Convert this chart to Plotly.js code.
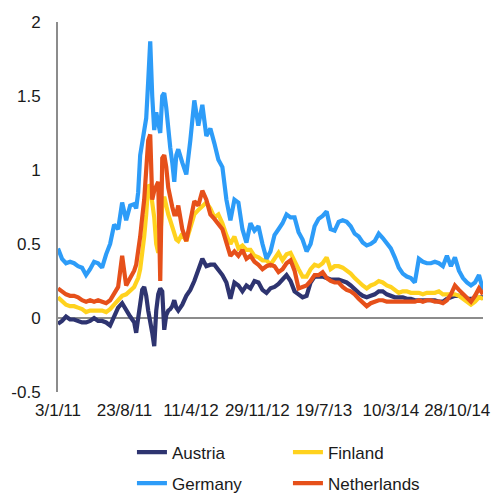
<!DOCTYPE html>
<html>
<head>
<meta charset="utf-8">
<script src="https://cdn.plot.ly/plotly-3.0.1.min.js"></script>
<style>
  html, body { margin: 0; padding: 0; background: #ffffff; }
  #chart { width: 496px; height: 495px; }
</style>
</head>
<body>
<div id="chart"></div>
<script>
// Dates (two-weekly, weekly in the late-2011 turmoil)
const dates = [
  "2011-01-03","2011-01-17","2011-01-31","2011-02-14","2011-02-28","2011-03-14","2011-03-28","2011-04-11","2011-04-25","2011-05-09",
  "2011-05-23","2011-06-06","2011-06-20","2011-07-04","2011-07-18","2011-08-01","2011-08-15","2011-08-29","2011-09-12","2011-09-26",
  "2011-10-03","2011-10-10","2011-10-17","2011-10-24","2011-10-31","2011-11-07","2011-11-14","2011-11-21","2011-11-28","2011-12-05",
  "2011-12-12","2011-12-19","2011-12-26","2012-01-02","2012-01-09","2012-01-16","2012-01-23","2012-01-30","2012-02-06","2012-02-13",
  "2012-02-20","2012-02-27","2012-03-12","2012-03-26","2012-04-09","2012-04-23","2012-05-07","2012-05-21","2012-06-04","2012-06-18",
  "2012-07-02","2012-07-16","2012-07-30","2012-08-13","2012-08-27","2012-09-10","2012-09-24","2012-10-08","2012-10-22","2012-11-05",
  "2012-11-19","2012-12-03","2012-12-17","2012-12-31","2013-01-14","2013-01-28","2013-02-11","2013-02-25","2013-03-11","2013-03-25",
  "2013-04-08","2013-04-22","2013-05-06","2013-05-20","2013-06-03","2013-06-17","2013-07-01","2013-07-15","2013-07-29","2013-08-12",
  "2013-08-26","2013-09-09","2013-09-23","2013-10-07","2013-10-21","2013-11-04","2013-11-18","2013-12-02","2013-12-16","2013-12-30",
  "2014-01-13","2014-01-27","2014-02-10","2014-02-24","2014-03-10","2014-03-24","2014-04-07","2014-04-21","2014-05-05","2014-05-19",
  "2014-06-02","2014-06-16","2014-06-30","2014-07-14","2014-07-28","2014-08-11","2014-08-25","2014-09-08","2014-09-22","2014-10-06",
  "2014-10-20","2014-11-03","2014-11-17","2014-12-01","2014-12-15","2014-12-29","2015-01-12","2015-01-26"
];

const austria = [
  -0.04,-0.02,0.01,-0.01,-0.01,-0.02,-0.03,-0.03,-0.02,0.00,
  -0.02,-0.02,-0.03,-0.05,0.01,0.07,0.10,0.05,0.01,-0.03,
  -0.10,0.00,0.10,0.19,0.21,0.15,0.05,-0.05,-0.10,-0.19,
  0.05,0.16,0.20,0.18,-0.08,0.02,0.05,0.06,0.08,0.12,
  0.07,0.05,0.09,0.15,0.19,0.25,0.32,0.40,0.35,0.36,
  0.36,0.33,0.29,0.24,0.13,0.24,0.22,0.18,0.22,0.20,
  0.25,0.24,0.19,0.17,0.20,0.21,0.23,0.26,0.29,0.25,
  0.18,0.16,0.14,0.15,0.24,0.28,0.28,0.28,0.27,0.26,
  0.26,0.26,0.25,0.24,0.22,0.19,0.17,0.15,0.14,0.15,
  0.16,0.18,0.18,0.16,0.15,0.14,0.14,0.14,0.13,0.13,
  0.12,0.12,0.12,0.12,0.12,0.12,0.11,0.11,0.13,0.14,
  0.15,0.15,0.14,0.13,0.13,0.13,0.14,0.14
];

const finland = [
  0.14,0.11,0.09,0.08,0.08,0.07,0.06,0.04,0.05,0.05,
  0.05,0.05,0.04,0.06,0.09,0.12,0.15,0.16,0.19,0.21,
  0.24,0.27,0.33,0.42,0.55,0.70,0.90,0.88,0.80,0.68,
  0.50,0.44,0.55,0.75,0.82,0.75,0.70,0.66,0.62,0.59,
  0.53,0.52,0.57,0.52,0.62,0.70,0.73,0.76,0.78,0.74,
  0.68,0.70,0.64,0.56,0.50,0.55,0.47,0.49,0.46,0.46,
  0.42,0.41,0.39,0.39,0.36,0.40,0.44,0.39,0.43,0.44,
  0.38,0.33,0.28,0.28,0.33,0.36,0.35,0.37,0.41,0.33,
  0.35,0.35,0.34,0.32,0.30,0.27,0.24,0.22,0.20,0.22,
  0.23,0.25,0.24,0.22,0.21,0.19,0.17,0.18,0.18,0.17,
  0.17,0.17,0.16,0.17,0.17,0.17,0.18,0.16,0.16,0.16,
  0.16,0.15,0.13,0.11,0.09,0.11,0.14,0.13
];

const germany = [
  0.47,0.40,0.37,0.38,0.37,0.35,0.34,0.29,0.33,0.38,
  0.37,0.34,0.43,0.50,0.63,0.60,0.78,0.66,0.76,0.77,
  0.74,0.85,1.10,1.20,1.27,1.35,1.60,1.87,1.50,1.27,
  1.39,1.30,1.25,1.50,1.52,1.42,1.25,1.15,1.05,0.92,
  1.10,1.14,1.05,0.97,1.20,1.47,1.30,1.44,1.23,1.28,
  1.18,1.07,1.02,0.80,0.66,0.80,0.78,0.60,0.51,0.64,
  0.59,0.62,0.50,0.40,0.45,0.56,0.60,0.64,0.70,0.68,
  0.68,0.58,0.53,0.45,0.50,0.62,0.67,0.69,0.72,0.60,
  0.59,0.65,0.66,0.65,0.62,0.57,0.55,0.51,0.49,0.50,
  0.52,0.57,0.54,0.50,0.47,0.41,0.34,0.30,0.28,0.27,
  0.24,0.40,0.38,0.37,0.37,0.38,0.37,0.35,0.42,0.35,
  0.41,0.32,0.27,0.24,0.22,0.24,0.29,0.19
];

const netherlands = [
  0.20,0.18,0.16,0.15,0.15,0.14,0.12,0.11,0.12,0.11,
  0.12,0.11,0.10,0.12,0.17,0.21,0.42,0.22,0.27,0.32,
  0.36,0.45,0.55,0.68,0.80,1.00,1.20,1.24,0.80,0.86,
  0.90,0.92,0.25,1.08,1.10,1.02,0.88,0.80,0.75,0.70,
  0.70,0.76,0.60,0.52,0.66,0.79,0.76,0.86,0.80,0.70,
  0.67,0.64,0.60,0.51,0.42,0.45,0.42,0.46,0.40,0.42,
  0.38,0.36,0.33,0.35,0.36,0.35,0.31,0.33,0.37,0.39,
  0.32,0.20,0.21,0.22,0.25,0.29,0.29,0.31,0.27,0.25,
  0.24,0.24,0.21,0.19,0.18,0.16,0.13,0.10,0.08,0.10,
  0.11,0.12,0.12,0.11,0.11,0.11,0.11,0.11,0.11,0.11,
  0.11,0.12,0.11,0.12,0.12,0.11,0.11,0.10,0.12,0.16,
  0.22,0.19,0.16,0.13,0.11,0.15,0.20,0.16
];

const seriesNames = ["Austria", "Finland", "Germany", "Netherlands"];
const seriesColors = ["#2E3470", "#FFD21E", "#2D9CF8", "#E6501A"];
const seriesValues = [austria, finland, germany, netherlands];
const seriesLegendRow = ["legend", "legend", "legend2", "legend2"];

const xTickVals = ["2011-01-03","2011-08-23","2012-04-11","2012-11-29","2013-07-19","2014-03-10","2014-10-28"];
const xTickText = ["3/1/11","23/8/11","11/4/12","29/11/12","19/7/13","10/3/14","28/10/14"];
const yTickVals = [-0.5, 0, 0.5, 1, 1.5, 2];
const yTickText = ["-0.5", "0", "0.5", "1", "1.5", "2"];

const traces = seriesNames.map((name, i) => ({
  type: "scatter",
  mode: "lines",
  name: name,
  legend: seriesLegendRow[i],
  x: dates,
  y: seriesValues[i],
  line: { color: seriesColors[i], width: 4.2, shape: "linear" }
}));

const legendCommon = {
  orientation: "h",
  xanchor: "left",
  yanchor: "top",
  entrywidth: 111,
  entrywidthmode: "pixels",
  font: { family: "Liberation Sans, Arial, sans-serif", size: 17, color: "#1a1a1a" },
  bgcolor: "rgba(0,0,0,0)"
};

const layout = {
  width: 496,
  height: 495,
  margin: { l: 58, r: 13, t: 22, b: 103, autoexpand: false },
  paper_bgcolor: "#ffffff",
  plot_bgcolor: "#ffffff",
  font: { family: "Liberation Sans, Arial, sans-serif", size: 17, color: "#1a1a1a" },
  showlegend: true,
  legend: Object.assign({}, legendCommon, { x: 0.174, y: -0.115 }),
  legend2: Object.assign({}, legendCommon, { x: 0.174, y: -0.199 }),
  xaxis: {
    type: "date",
    range: ["2011-01-03", "2015-01-26"],
    tickmode: "array",
    tickvals: xTickVals,
    ticktext: xTickText,
    tickangle: 0,
    showgrid: false,
    zeroline: false,
    showline: false,
    ticks: "outside",
    ticklen: 3,
    tickcolor: "rgba(0,0,0,0)",
    tickfont: { size: 17 }
  },
  yaxis: {
    range: [-0.5, 2],
    tickmode: "array",
    tickvals: yTickVals,
    ticktext: yTickText,
    showgrid: false,
    zeroline: true,
    zerolinecolor: "#8c8c8c",
    zerolinewidth: 2,
    showline: true,
    linecolor: "#8c8c8c",
    linewidth: 2,
    ticks: "outside",
    ticklen: 12,
    tickcolor: "rgba(0,0,0,0)",
    tickfont: { size: 17 }
  }
};

Plotly.newPlot("chart", traces, layout, { displayModeBar: false, staticPlot: true });
</script>
</body>
</html>
